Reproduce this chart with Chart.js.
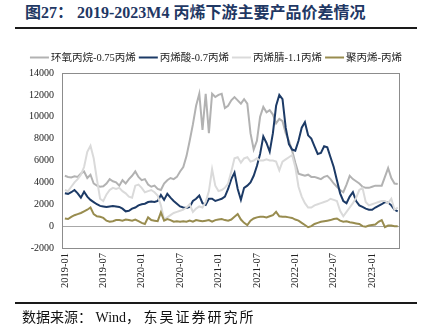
<!DOCTYPE html>
<html>
<head>
<meta charset="utf-8">
<script src="https://cdn.jsdelivr.net/npm/chart.js@4.4.1/dist/chart.umd.min.js"></script>
<style>
  html, body { margin: 0; padding: 0; background: #fff; }
  #wrap { position: relative; width: 422px; height: 333px; overflow: hidden; background: #fff; }
  #c { position: absolute; left: 0; top: 0; }
  .title { position: absolute; left: 25px; top: 3px; font: bold 16px "Liberation Serif", "Noto Sans CJK SC", serif; color: #1f3864; white-space: nowrap; line-height: 20px; }
  .rule { position: absolute; left: 15px; width: 402px; height: 2px; background: #1a1a1a; }
  .src { position: absolute; left: 22px; top: 309px; font: 14px "Liberation Serif", "Noto Sans CJK SC", serif; color: #111; white-space: nowrap; line-height: 17px; }
  .src .wide { letter-spacing: 2px; }
</style>
</head>
<body>
<div id="wrap">
  <div class="title">图27：&nbsp;2019-2023M4 丙烯下游主要产品价差情况</div>
  <div class="rule" style="top:27px"></div>
  <canvas id="c" width="422" height="333"></canvas>
  <div class="rule" style="top:302px"></div>
  <div class="src">数据来源：&nbsp;Wind，&nbsp;<span class="wide">东吴证券研究所</span></div>
</div>
<script>
// Half-monthly spreads (yuan/ton), first point = 2019-01, step = half a month
const seriesNames = ['环氧丙烷-0.75丙烯', '丙烯酸-0.7丙烯', '丙烯腈-1.1丙烯', '聚丙烯-丙烯'];

const poSpread = [
  4600,4500,4450,4550,4500,4800,5000,4400,4700,3900,
  3700,3600,3650,3900,4300,4100,4000,3700,4200,3900,
  4300,4600,5000,4500,4200,4300,3800,3600,3700,3400,
  3300,3900,4200,4400,4300,4500,5000,5400,6400,7800,
  9300,11000,12100,8800,12100,8500,12100,11800,12000,12100,
  10800,11000,11500,11800,11500,11200,11600,11200,8500,7000,
  7800,10000,10900,10400,10600,10200,9400,9800,9600,8500,
  7800,6900,5800,4800,4700,4600,4700,4500,4500,4400,
  4300,4500,4600,4300,3900,3600,3300,3100,3800,4600,
  4300,4100,3900,3600,3500,3500,3600,3700,3700,3700,
  4500,5300,4400,3900,3850
];

const aaSpread = [
  3000,2950,3100,3300,3000,2600,3150,2700,2400,2200,
  2000,1850,1800,1750,1800,1850,1800,1750,1600,1350,
  1400,1600,1700,1900,2000,2050,2200,2250,2200,2300,
  2850,2400,2950,2600,2300,2050,1800,1700,1650,1750,
  2300,2500,2800,2100,1950,2500,2500,2300,2400,2500,
  2700,3400,4300,4900,3400,2400,3500,3700,4000,4600,
  5500,6600,8200,7600,6800,8500,11000,12000,11600,9000,
  7500,7000,6900,7800,9000,9500,8300,8000,7300,6600,
  6700,7300,7200,6300,5400,4200,3000,2300,2100,2700,
  3100,2300,1900,1750,1600,1500,1500,1700,1850,2000,
  2200,2150,1900,1500,1350
];

const anSpread = [
  3300,3200,3600,4000,4300,4700,5400,6800,7350,6200,
  4300,2500,2300,2900,3300,3500,3400,3500,3200,3000,
  2700,2600,3700,3800,3500,3100,3200,3300,3100,2800,
  1900,600,800,1000,1200,1300,1400,1500,1700,2000,
  1300,1600,1800,1700,2200,3200,5200,3700,3200,3300,
  3500,3900,5000,6200,6300,5800,6200,6300,5900,6000,
  6200,6000,6000,6100,6000,6000,5900,5100,5900,6100,
  6300,6500,5400,3600,2700,2100,1700,1700,1900,2000,
  2100,2200,2300,2500,2400,2300,1400,900,1300,1700,
  2100,2600,3300,3500,2200,1900,2000,2100,2200,2300,
  2300,2100,2500,1500,1700
];

const ppSpread = [
  700,650,850,1000,1100,1200,1350,1500,1700,1100,
  900,850,750,500,400,450,550,550,500,600,
  550,500,600,450,300,200,800,550,500,450,
  1250,500,650,550,400,450,400,450,400,500,
  400,550,500,450,500,550,400,550,600,650,
  550,500,600,850,1100,600,300,100,500,700,
  800,850,850,800,900,1000,1300,900,850,850,
  800,750,600,500,300,100,-100,0,200,300,
  400,450,500,550,650,700,500,400,450,350,
  300,250,200,0,-50,50,100,150,400,550,
  -100,50,50,0,0
];

// Axis labels every six months, counted in months from 2019-01
const tickMonths = [0, 6, 12, 18, 24, 30, 36, 42, 48];
const tickLabels = ['2019-01','2019-07','2020-01','2020-07','2021-01','2021-07','2022-01','2022-07','2023-01'];

const colors = ['#b2b2b2', '#1c3a66', '#dadada', '#988c4f'];
const allSeries = [poSpread, aaSpread, anSpread, ppSpread];

const toPoints = arr => arr.map((v, i) => ({ x: i / 2, y: v }));

const datasets = allSeries.map((arr, k) => ({
  label: seriesNames[k],
  data: toPoints(arr),
  borderColor: colors[k],
  backgroundColor: colors[k],
  borderWidth: 2,
  pointRadius: 0,
  tension: 0,
  order: 4 - k            // later series painted over earlier ones
}));

const serif = '"Liberation Serif", "Noto Sans CJK SC", serif';

// Box around the plotting area
const frame = {
  id: 'frame',
  beforeDatasetsDraw(chart) {
    const { ctx, chartArea: a } = chart;
    ctx.save();
    ctx.strokeStyle = '#8c8c8c';
    ctx.lineWidth = 1;
    ctx.strokeRect(Math.round(a.left) + 0.5, Math.round(a.top) + 0.5,
                   Math.round(a.right - a.left), Math.round(a.bottom - a.top));
    ctx.restore();
  }
};

// Single-row legend: short line sample followed closely by the series name
const lineLegend = {
  id: 'lineLegend',
  afterDraw(chart, args, opts) {
    const ctx = chart.ctx;
    const ds = chart.data.datasets;
    const sample = 19, gapText = 2, gapItem = 3;
    ctx.save();
    ctx.font = `${opts.size}px ${serif}`;
    const widths = ds.map(d => ctx.measureText(d.label).width);
    const total = widths.reduce((s, w) => s + sample + gapText + w, 0) + gapItem * (ds.length - 1);
    let x = opts.centerX - total / 2;
    const y = opts.y;
    ctx.textBaseline = 'middle';
    ctx.textAlign = 'left';
    ds.forEach((d, i) => {
      ctx.strokeStyle = d.borderColor;
      ctx.lineWidth = 2;
      ctx.beginPath();
      ctx.moveTo(x, y + 0.5);
      ctx.lineTo(x + sample, y + 0.5);
      ctx.stroke();
      ctx.fillStyle = '#222';
      ctx.fillText(d.label, x + sample + gapText, y + 1);
      x += sample + gapText + widths[i] + gapItem;
    });
    ctx.restore();
  }
};

new Chart(document.getElementById('c'), {
  type: 'line',
  data: { datasets },
  options: {
    responsive: false,
    animation: false,
    events: [],
    layout: { padding: { top: 73, right: 23, bottom: 35, left: 0 } },
    plugins: {
      tooltip: { enabled: false },
      legend: { display: false },
      lineLegend: { centerX: 216, y: 57, size: 10.5 }
    },
    scales: {
      x: {
        type: 'linear',
        min: -0.45,
        max: 52.2,
        afterBuildTicks: s => { s.ticks = tickMonths.map(v => ({ value: v })); },
        afterFit: s => { s.height = 50; },
        grid: { display: false, drawTicks: false },
        border: { display: false },
        ticks: {
          autoSkip: false,
          minRotation: 90,
          maxRotation: 90,
          padding: 5,
          color: '#222',
          font: { family: serif, size: 10.5 },
          callback: v => tickLabels[tickMonths.indexOf(v)]
        }
      },
      y: {
        min: -2000,
        max: 14000,
        afterFit: s => { s.width = 62; },
        grid: {
          drawTicks: false,
          lineWidth: 1,
          color: c => (c.tick && c.tick.value === 0) ? '#a8a8a8' : 'rgba(0,0,0,0)'
        },
        border: { display: false },
        ticks: {
          stepSize: 2000,
          padding: 8,
          color: '#222',
          font: { family: serif, size: 10 },
          callback: v => String(v)
        }
      }
    }
  },
  plugins: [frame, lineLegend]
});
</script>
</body>
</html>
